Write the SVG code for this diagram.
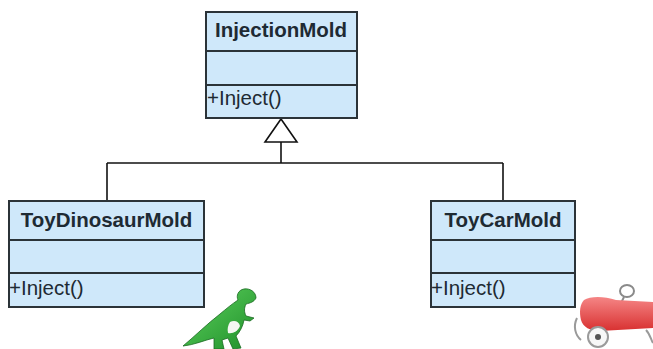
<svg xmlns="http://www.w3.org/2000/svg" width="653" height="349" viewBox="0 0 653 349">
  <style>
    .box { fill: #cfe8fa; stroke: #2b3338; stroke-width: 2; }
    .div { stroke: #2b3338; stroke-width: 2; }
    .title { font-family: "Liberation Sans", Arial, sans-serif; font-weight: bold; font-size: 20.5px; fill: #1e2a33; text-anchor: middle; }
    .op { font-family: "Liberation Sans", Arial, sans-serif; font-size: 20.5px; fill: #1e2a33; }
    .wire { stroke: #111; stroke-width: 1.6; fill: none; }
    .head { fill: #fff; stroke: #111; stroke-width: 1.6; }
  </style>
  <defs>
    <linearGradient id="dinoSkin" x1="0" y1="0" x2="1" y2="1">
      <stop offset="0" stop-color="#5fd35f"/>
      <stop offset="1" stop-color="#1f8f2a"/>
    </linearGradient>
    <linearGradient id="carPaint" x1="0" y1="0" x2="0" y2="1">
      <stop offset="0" stop-color="#f58585"/>
      <stop offset="1" stop-color="#d83030"/>
    </linearGradient>
  </defs>

  <!-- generalization connectors -->
  <g id="connectors">
    <path class="wire" d="M281,163 L281,142"/>
    <path class="head" d="M281,119 L297,142 L265,142 Z"/>
    <path class="wire" d="M107,163 L503,163"/>
    <path class="wire" d="M107,163 L107,201"/>
    <path class="wire" d="M503,163 L503,201"/>
  </g>

  <!-- base class -->
  <g id="InjectionMold">
    <rect class="box" x="206" y="12" width="151" height="106"/>
    <line class="div" x1="206" y1="51" x2="357" y2="51"/>
    <line class="div" x1="206" y1="85" x2="357" y2="85"/>
    <text class="title" x="281" y="37">InjectionMold</text>
    <text class="op" x="207" y="105">+Inject()</text>
  </g>

  <!-- subclasses -->
  <g id="ToyDinosaurMold">
    <rect class="box" x="9" y="201" width="195" height="106"/>
    <line class="div" x1="9" y1="240" x2="204" y2="240"/>
    <line class="div" x1="9" y1="273" x2="204" y2="273"/>
    <text class="title" x="106.5" y="227">ToyDinosaurMold</text>
    <text class="op" x="9" y="295">+Inject()</text>
  </g>

  <g id="ToyCarMold">
    <rect class="box" x="431" y="201" width="144" height="106"/>
    <line class="div" x1="431" y1="240" x2="575" y2="240"/>
    <line class="div" x1="431" y1="273" x2="575" y2="273"/>
    <text class="title" x="503" y="227">ToyCarMold</text>
    <text class="op" x="431" y="295">+Inject()</text>
  </g>

  <!-- toy dinosaur -->
  <g id="dinosaur">
    <path d="M183,346 C195,336 207,324 220,314 C226,309 232,304 238,300 C236,296 238,290 244,289 C250,288 256,292 256,298 C254,302 250,303 246,304 C244,308 244,312 246,316 L254,318 L250,321 L244,320 C243,326 240,332 236,336 L241,348 L233,349 L228,338 L222,340 L224,349 L214,349 L214,338 C205,340 194,345 183,346 Z" fill="url(#dinoSkin)" stroke="#1b6b22" stroke-width="0.8"/>
    <path d="M230,322 C234,320 239,321 240,326 C238,331 233,334 228,333 C227,329 228,325 230,322 Z" fill="#f4f7f2"/>
  </g>

  <!-- toy pedal car -->
  <g id="car">
    <ellipse cx="627" cy="291" rx="7" ry="6" fill="none" stroke="#8a8a8a" stroke-width="2"/>
    <line x1="624" y1="297" x2="621" y2="303" stroke="#8a8a8a" stroke-width="2"/>
    <path d="M584,300 C590,296 604,296 616,300 L653,302 L653,328 L600,331 C590,331 583,327 581,320 C579,312 580,304 584,300 Z" fill="url(#carPaint)"/>
    <path d="M577,318 C573,326 575,335 581,340" fill="none" stroke="#9a9a9a" stroke-width="2"/>
    <circle cx="598" cy="337" r="10" fill="#f7f7f7" stroke="#9a9a9a" stroke-width="2"/>
    <circle cx="598" cy="337" r="3" fill="#555"/>
    <path d="M646,330 C650,334 651,340 653,343" fill="none" stroke="#9a9a9a" stroke-width="2"/>
  </g>
</svg>
